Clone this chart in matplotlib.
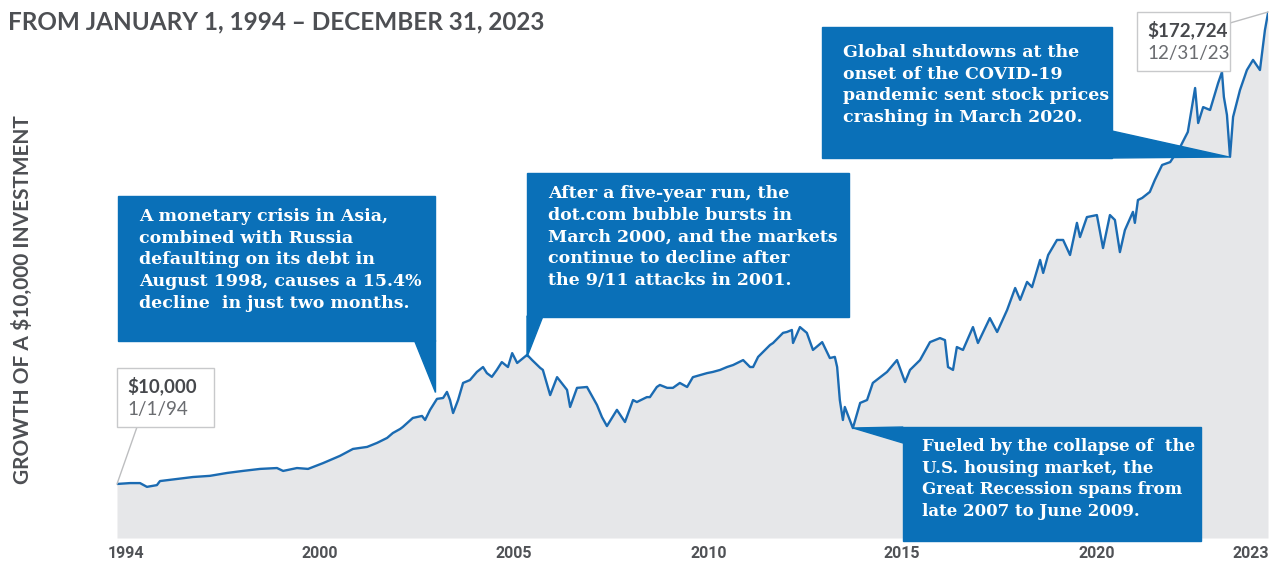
import matplotlib
matplotlib.use("Agg")
import matplotlib.pyplot as plt
from matplotlib.patches import Polygon, Rectangle

# ---------------- data ($ thousands) ----------------
years = [1994.00, 1994.34, 1994.60, 1994.78, 1995.04, 1995.12, 1995.56, 1995.98, 1996.42, 1996.87,
         1997.28, 1997.73, 1998.17, 1998.33, 1998.69, 1998.98, 1999.37, 1999.81, 2000.15, 2000.52,
         2000.78, 2001.04, 2001.19, 2001.38, 2001.45, 2001.71, 2001.95, 2002.03, 2002.16, 2002.34,
         2002.50, 2002.60, 2002.68, 2002.76, 2002.89, 2003.02, 2003.20, 2003.38, 2003.54, 2003.64,
         2003.77, 2003.90, 2004.03, 2004.19, 2004.30, 2004.43, 2004.69, 2004.82, 2005.03, 2005.10,
         2005.23, 2005.29, 2005.47, 2005.73, 2005.81, 2005.99, 2006.25, 2006.51, 2006.64, 2006.77,
         2007.03, 2007.24, 2007.45, 2007.55, 2007.81, 2007.89, 2008.07, 2008.15, 2008.34, 2008.49,
         2008.67, 2008.86, 2009.01, 2009.20, 2009.38, 2009.53, 2009.72, 2009.90, 2010.06, 2010.32,
         2010.50, 2010.58, 2010.71, 2010.84, 2011.02, 2011.10, 2011.36, 2011.46, 2011.59, 2011.62,
         2011.80, 2011.98, 2012.14, 2012.38, 2012.58, 2012.71, 2012.77, 2012.84, 2012.92, 2012.97,
         2013.18, 2013.37, 2013.55, 2013.70, 2014.07, 2014.33, 2014.54, 2014.67, 2014.93, 2015.19,
         2015.45, 2015.58, 2015.66, 2015.79, 2015.89, 2016.05, 2016.31, 2016.44, 2016.75, 2016.94,
         2017.20, 2017.41, 2017.54, 2017.72, 2017.85, 2018.06, 2018.14, 2018.27, 2018.50, 2018.66,
         2018.84, 2019.02, 2019.10, 2019.28, 2019.54, 2019.70, 2019.88, 2020.01, 2020.14, 2020.27,
         2020.48, 2020.53, 2020.61, 2020.72, 2020.92, 2021.05, 2021.24, 2021.45, 2021.71, 2021.91,
         2022.10, 2022.18, 2022.31, 2022.49, 2022.70, 2022.80, 2022.85, 2022.93, 2023.01, 2023.09,
         2023.27, 2023.45, 2023.61, 2023.79, 2023.92, 2024.00]
growth = [10.0, 10.3, 10.3, 9.0, 9.6, 11.0, 11.7, 12.4, 12.8, 13.8,
          14.5, 15.2, 15.5, 14.5, 15.5, 15.2, 17.2, 19.7, 22.1, 22.8,
          24.2, 25.9, 27.6, 29.0, 29.7, 32.8, 33.5, 32.1, 35.6, 39.4,
          39.7, 41.8, 39.0, 34.5, 39.0, 44.9, 45.9, 48.7, 50.4, 48.3,
          47.0, 49.4, 52.1, 50.4, 55.2, 51.8, 54.6, 52.8, 50.1, 49.4,
          43.5, 40.7, 46.9, 42.5, 36.6, 43.2, 43.5, 37.3, 33.1, 30.0,
          35.6, 31.4, 39.0, 38.3, 40.0, 40.0, 43.5, 44.2, 43.2, 43.2,
          44.9, 43.5, 46.9, 47.6, 48.3, 48.7, 49.4, 50.4, 51.1, 52.8,
          50.4, 50.4, 53.9, 55.6, 58.0, 58.7, 62.2, 62.5, 63.2, 58.7,
          64.2, 62.2, 56.3, 59.0, 53.5, 53.9, 50.4, 39.0, 32.1, 36.6,
          29.3, 38.0, 39.0, 44.9, 48.7, 52.8, 45.2, 49.4, 52.8, 59.0,
          60.4, 59.7, 50.4, 49.4, 57.3, 56.3, 64.2, 58.7, 67.3, 62.5,
          70.1, 77.7, 73.6, 79.8, 78.0, 87.4, 82.9, 89.1, 94.3, 94.3,
          89.1, 100.2, 95.3, 102.2, 102.9, 91.5, 102.9, 101.2, 90.1, 97.7,
          104.0, 100.2, 108.1, 108.8, 110.9, 115.0, 120.2, 121.2, 126.4, 131.6,
          146.8, 134.7, 140.2, 139.2, 148.5, 152.3, 143.7, 137.5, 123.0, 136.8,
          146.1, 153.0, 156.5, 153.0, 166.8, 172.7]

tick_pos = [1994.23, 1999.29, 2004.35, 2009.43, 2014.46, 2019.54, 2023.56]
tick_labels = ["1994", "2000", "2005", "2010", "2015", "2020", "2023"]

title = "FROM JANUARY 1, 1994 \u2013 DECEMBER 31, 2023"
ylabel = "GROWTH OF A $10,000 INVESTMENT"

notes = [
    "A monetary crisis in Asia,\ncombined with Russia\ndefaulting on its debt in\nAugust 1998, causes a 15.4%\ndecline  in just two months.",
    "After a five-year run, the\ndot.com bubble bursts in\nMarch 2000, and the markets\ncontinue to decline after\nthe 9/11 attacks in 2001.",
    "Fueled by the collapse of  the\nU.S. housing market, the\nGreat Recession spans from\nlate 2007 to June 2009.",
    "Global shutdowns at the\nonset of the COVID-19\npandemic sent stock prices\ncrashing in March 2020.",
]

# ---------------- style ----------------
BLUE_LINE = "#1B6BB2"
BLUE_BOX = "#0A70B8"
FILL = "#E6E7E9"
GREY_TXT = "#4D4F53"

W, H = 1269, 567
fig = plt.figure(figsize=(W / 100, H / 100), dpi=100)
fig.patch.set_facecolor("white")


def fx(x):
    return x / W


def fy(y):
    return 1 - y / H


ax = fig.add_axes([fx(117), fy(538), fx(1268) - fx(117), fy(0) - fy(538)])
ymin = -8.67
ax.set_xlim(1994.0, 2024.0)
ax.set_ylim(ymin, 177.2)
ax.fill_between(years, growth, ymin, color=FILL, lw=0, zorder=1)
ax.plot(years, growth, color=BLUE_LINE, lw=1.7, zorder=3, solid_joinstyle="round")
for s in ax.spines.values():
    s.set_visible(False)
ax.set_yticks([])
ax.set_xticks(tick_pos)
ax.set_xticklabels(tick_labels)
ax.tick_params(axis="x", length=0, pad=6)
for lab in ax.get_xticklabels():
    lab.set_fontfamily(["Roboto", "DejaVu Sans"])
    lab.set_fontweight("bold")
    lab.set_fontsize(11.5)
    lab.set_color("#505256")

# title and y label
fig.text(fx(8), fy(22), title, fontsize=17.5, fontweight="bold", color=GREY_TXT,
         family=["Lato", "DejaVu Sans"], va="center", ha="left")
fig.text(fx(22), fy(300), ylabel, fontsize=15, fontweight="bold", color=GREY_TXT,
         family=["Lato", "DejaVu Sans"], rotation=90, va="center", ha="center")

# ---------------- callouts ----------------
def callout(box, tri, text, tx, ty, size=12.5):
    x0, y0, x1, y1 = box
    fig.patches.append(Rectangle((fx(x0), fy(y1)), fx(x1) - fx(x0), fy(y0) - fy(y1),
                                 transform=fig.transFigure, color=BLUE_BOX, zorder=5))
    fig.patches.append(Polygon([(fx(a), fy(b)) for a, b in tri], closed=True,
                               transform=fig.transFigure, color=BLUE_BOX, zorder=5))
    fig.text(fx(tx), fy(ty), text, color="white", fontsize=size, fontweight="bold",
             family=["DejaVu Serif"], va="top", ha="left", linespacing=1.36, zorder=6)


callout((118, 196, 435, 341), [(414, 340), (435, 340), (435, 392)], notes[0], 139, 208)
callout((527, 173, 849, 317), [(527, 316), (543, 316), (527, 357)], notes[1], 548, 185)
callout((903, 427, 1201, 541), [(903, 427), (853, 428), (903, 443)], notes[2], 922, 438, 12)
callout((822, 27, 1112, 158), [(1112, 131), (1112, 158), (1229, 157)], notes[3], 843, 44)

# ---------------- value labels ----------------
def value_box(box, lead, val, date):
    x0, y0, x1, y1 = box
    fig.patches.append(Rectangle((fx(x0), fy(y1)), fx(x1) - fx(x0), fy(y0) - fy(y1),
                                 transform=fig.transFigure, facecolor="white",
                                 edgecolor="#C8C9CB", lw=1.0, zorder=5))
    fig.lines.append(plt.Line2D([fx(p[0]) for p in lead], [fy(p[1]) for p in lead],
                                transform=fig.transFigure, color="#BDBEC0", lw=1.0, zorder=4))
    fig.text(fx(x0 + 10), fy(y0 + 18), val, fontsize=13.5, fontweight="bold", color="#46484C",
             family=["Lato", "DejaVu Sans"], va="center", ha="left", zorder=6)
    fig.text(fx(x0 + 10), fy(y0 + 42), date, fontsize=13.5, color="#6A6C70",
             family=["Lato", "DejaVu Sans"], va="center", ha="left", zorder=6)


value_box((117, 368, 214, 427), [(137, 427), (117, 484)], "$10,000", "1/1/94")
value_box((1137, 12, 1230, 71), [(1230, 23), (1268, 12)], "$172,724", "12/31/23")

fig.savefig("out.png", dpi=100)
